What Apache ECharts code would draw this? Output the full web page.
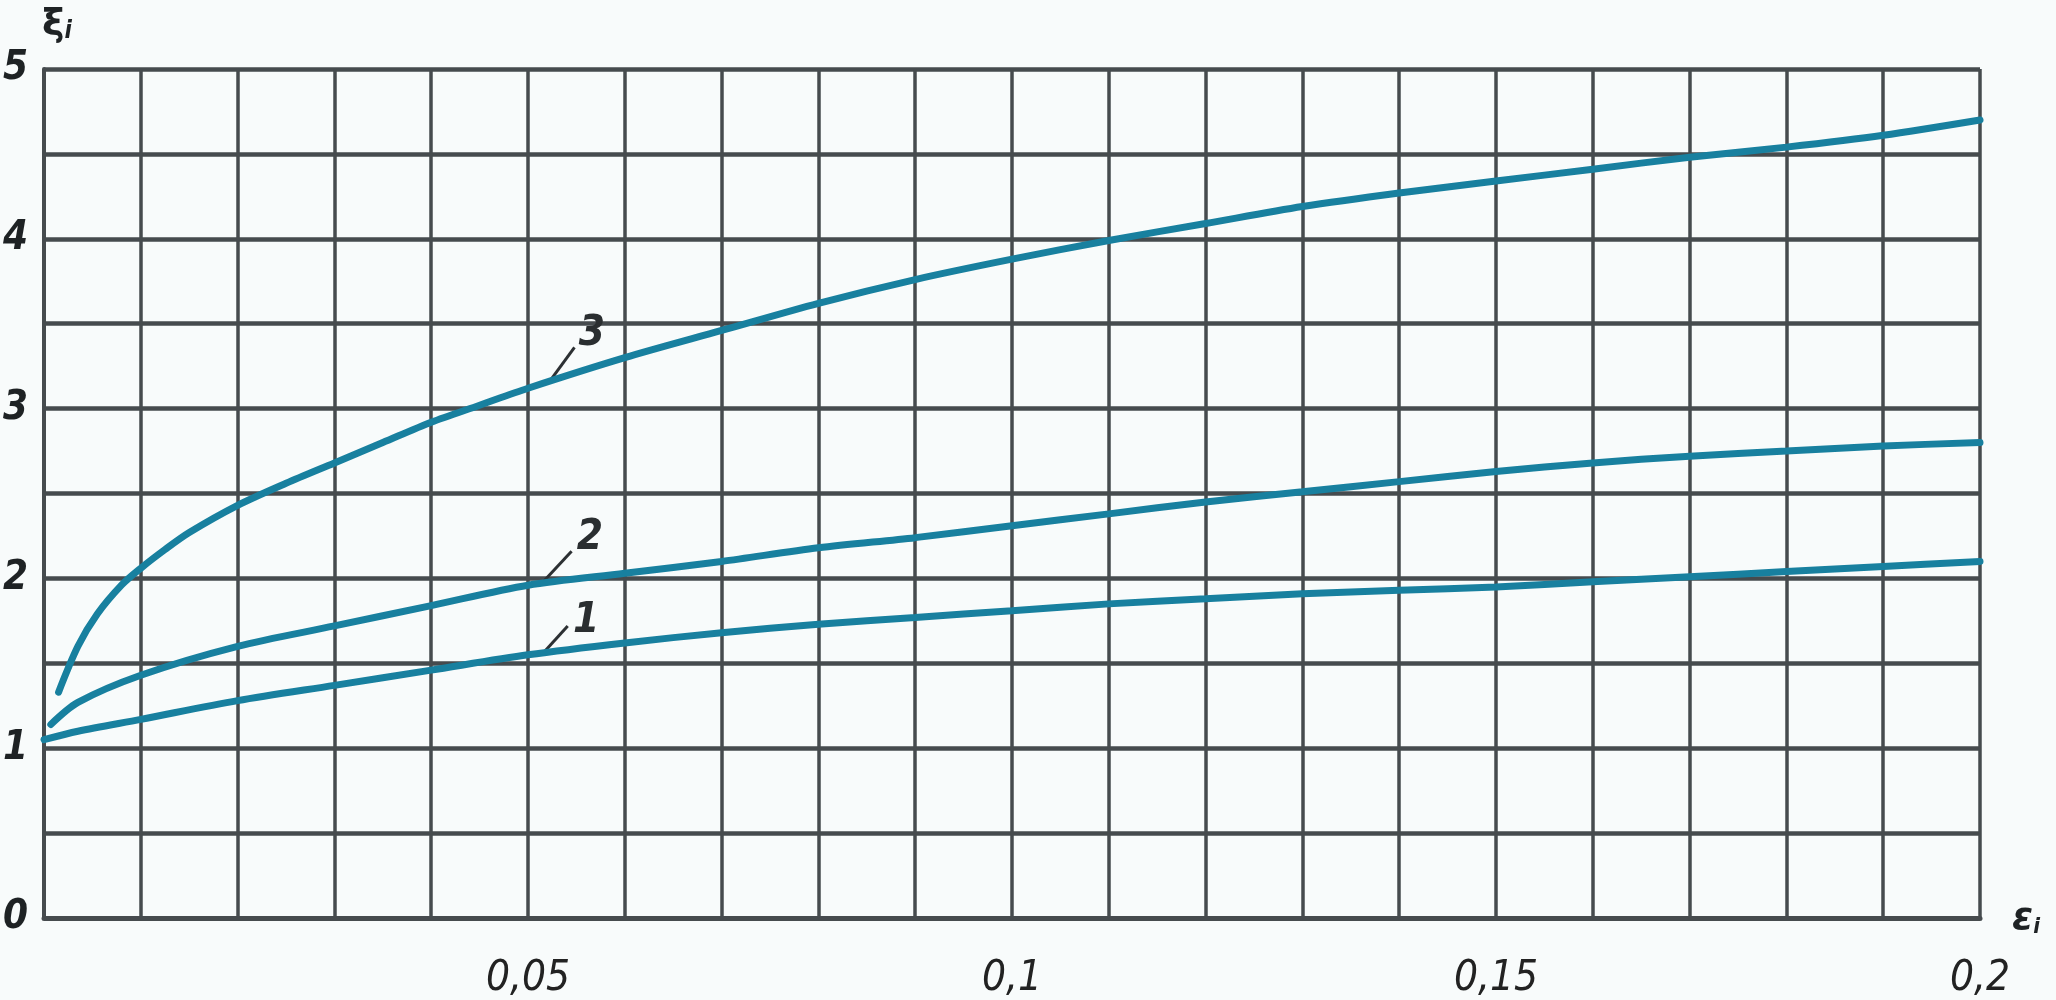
<!DOCTYPE html>
<html>
<head>
<meta charset="utf-8">
<style>
html,body{margin:0;padding:0;background:#f8fbfb;}
#chart{width:2056px;height:1000px;}
</style>
<script src="https://cdn.jsdelivr.net/npm/echarts@6/dist/echarts.min.js"></script>
</head>
<body>
<div id="chart"></div>
<script>
// ---- data ----
const curve1X = [0, 0.0035, 0.01, 0.02, 0.03, 0.04, 0.05, 0.06, 0.07, 0.08, 0.09, 0.1, 0.11, 0.12, 0.13, 0.14, 0.15, 0.16, 0.17, 0.18, 0.19, 0.2];
const curve1Y = [1.05, 1.1, 1.17, 1.28, 1.37, 1.46, 1.55, 1.62, 1.68, 1.73, 1.77, 1.81, 1.85, 1.88, 1.91, 1.93, 1.95, 1.98, 2.01, 2.04, 2.07, 2.1];

const curve2X = [0.0007, 0.0035, 0.01, 0.02, 0.03, 0.04, 0.05, 0.06, 0.07, 0.08, 0.09, 0.1, 0.11, 0.12, 0.13, 0.14, 0.15, 0.16, 0.17, 0.18, 0.19, 0.2];
const curve2Y = [1.14, 1.27, 1.43, 1.6, 1.72, 1.84, 1.96, 2.03, 2.1, 2.18, 2.24, 2.31, 2.38, 2.45, 2.51, 2.57, 2.63, 2.68, 2.72, 2.75, 2.78, 2.8];

const curve3X = [0.0015, 0.0035, 0.0055, 0.008, 0.01, 0.0125, 0.015, 0.02, 0.025, 0.03, 0.035, 0.04, 0.045, 0.05, 0.06, 0.07, 0.08, 0.09, 0.1, 0.11, 0.12, 0.13, 0.14, 0.15, 0.16, 0.17, 0.18, 0.19, 0.2];
const curve3Y = [1.33, 1.6, 1.79, 1.96, 2.06, 2.17, 2.27, 2.43, 2.56, 2.68, 2.8, 2.92, 3.02, 3.12, 3.3, 3.46, 3.62, 3.76, 3.88, 3.99, 4.09, 4.19, 4.27, 4.34, 4.41, 4.48, 4.54, 4.61, 4.7];

const curveNames = ['1', '2', '3'];
// annotation label positions (data coords) and leader lines (data coords)
const labelX = [0.056, 0.0564, 0.0566];
const labelY = [1.75, 2.24, 3.44];
const leaderFrom = [[0.0514, 1.55], [0.0514, 1.97], [0.0521, 3.15]];
const leaderTo = [[0.0541, 1.72], [0.0545, 2.16], [0.0548, 3.36]];

const xTickStep = 0.01;   // grid step
const yTickStep = 0.5;
const xAxisName = 'ε';
const yAxisName = 'ξ';
const axisSub = 'i';

// ---- chart ----
const gridColor = '#464b4e';
const curveColor = '#18809f';
const fontFam = "'Liberation Sans Narrow','DejaVu Sans Condensed','Liberation Sans',sans-serif";

function pairs(xs, ys) { return xs.map((x, i) => [x, ys[i]]); }
const curvesX = [curve1X, curve2X, curve3X];
const curvesY = [curve1Y, curve2Y, curve3Y];

const series = curveNames.map((nm, i) => ({
  name: nm,
  type: 'line',
  data: pairs(curvesX[i], curvesY[i]),
  smooth: 0.3,
  showSymbol: false,
  symbol: 'none',
  lineStyle: { color: curveColor, width: 7, cap: 'round' },
  z: 5,
  markLine: {
    silent: true,
    symbol: ['none', 'none'],
    lineStyle: { color: '#2c3033', width: 3, type: 'solid' },
    label: { show: false },
    data: [[{ coord: leaderFrom[i] }, { coord: leaderTo[i] }]]
  },
  markPoint: {
    silent: true,
    symbol: 'circle',
    symbolSize: 1,
    itemStyle: { color: 'rgba(0,0,0,0)' },
    label: {
      show: true,
      formatter: nm,
      color: '#2a2e30',
      fontFamily: fontFam,
      fontStyle: 'italic',
      fontWeight: 'bold',
      fontSize: 42,
      position: 'inside'
    },
    data: [{ coord: [labelX[i], labelY[i]] }]
  }
}));

const chart = echarts.init(document.getElementById('chart'), null, { renderer: 'canvas' });
chart.setOption({
  backgroundColor: '#f8fbfb',
  animation: false,
  grid: { left: 39, right: 76, top: 69, bottom: 82, containLabel: false },
  xAxis: {
    type: 'value',
    min: 0, max: 0.2, interval: xTickStep,
    axisLine: { show: true, lineStyle: { color: gridColor, width: 5 } },
    axisTick: { show: false },
    splitLine: { show: true, lineStyle: { color: gridColor, width: 3.5 } },
    axisLabel: {
      margin: 40,
      color: '#222',
      fontFamily: fontFam,
      fontStyle: 'italic',
      fontSize: 42,
      formatter: function (v) {
        const k = Math.round(v * 100);
        if (k === 0 || k % 5 !== 0) return '';
        return String(k / 100).replace('.', ',');
      }
    }
  },
  yAxis: {
    type: 'value',
    min: 0, max: 5, interval: yTickStep,
    axisLine: { show: true, lineStyle: { color: gridColor, width: 4 } },
    axisTick: { show: false },
    splitLine: { show: true, lineStyle: { color: gridColor, width: 4.5 } },
    axisLabel: {
      margin: 16,
      color: '#1e2224',
      fontFamily: fontFam,
      fontStyle: 'italic',
      fontWeight: 'bold',
      fontSize: 40,
      formatter: function (v) {
        const k = Math.round(v * 2);
        if (k % 2 !== 0) return '';
        return String(k / 2);
      }
    }
  },
  graphic: [
    {
      type: 'text', left: 42, top: 6, z: 10,
      style: {
        text: '{a|' + yAxisName + '}{b|' + axisSub + '}',
        rich: {
          a: { fontFamily: "'DejaVu Sans',sans-serif", fontWeight: 'bold', fontSize: 38, fill: '#1e2224', lineHeight: 46, verticalAlign: 'bottom' },
          b: { fontFamily: fontFam, fontStyle: 'italic', fontWeight: 'bold', fontSize: 24, fill: '#1e2224', lineHeight: 34, verticalAlign: 'bottom' }
        }
      }
    },
    {
      type: 'text', left: 2012, top: 900, z: 10,
      style: {
        text: '{a|' + xAxisName + '}{b|' + axisSub + '}',
        rich: {
          a: { fontFamily: "'DejaVu Sans',sans-serif", fontStyle: 'italic', fontWeight: 'bold', fontSize: 38, fill: '#1e2224', lineHeight: 46, verticalAlign: 'bottom' },
          b: { fontFamily: fontFam, fontStyle: 'italic', fontWeight: 'bold', fontSize: 22, fill: '#1e2224', lineHeight: 34, verticalAlign: 'bottom' }
        }
      }
    }
  ],
  series: series
});
</script>
</body>
</html>
